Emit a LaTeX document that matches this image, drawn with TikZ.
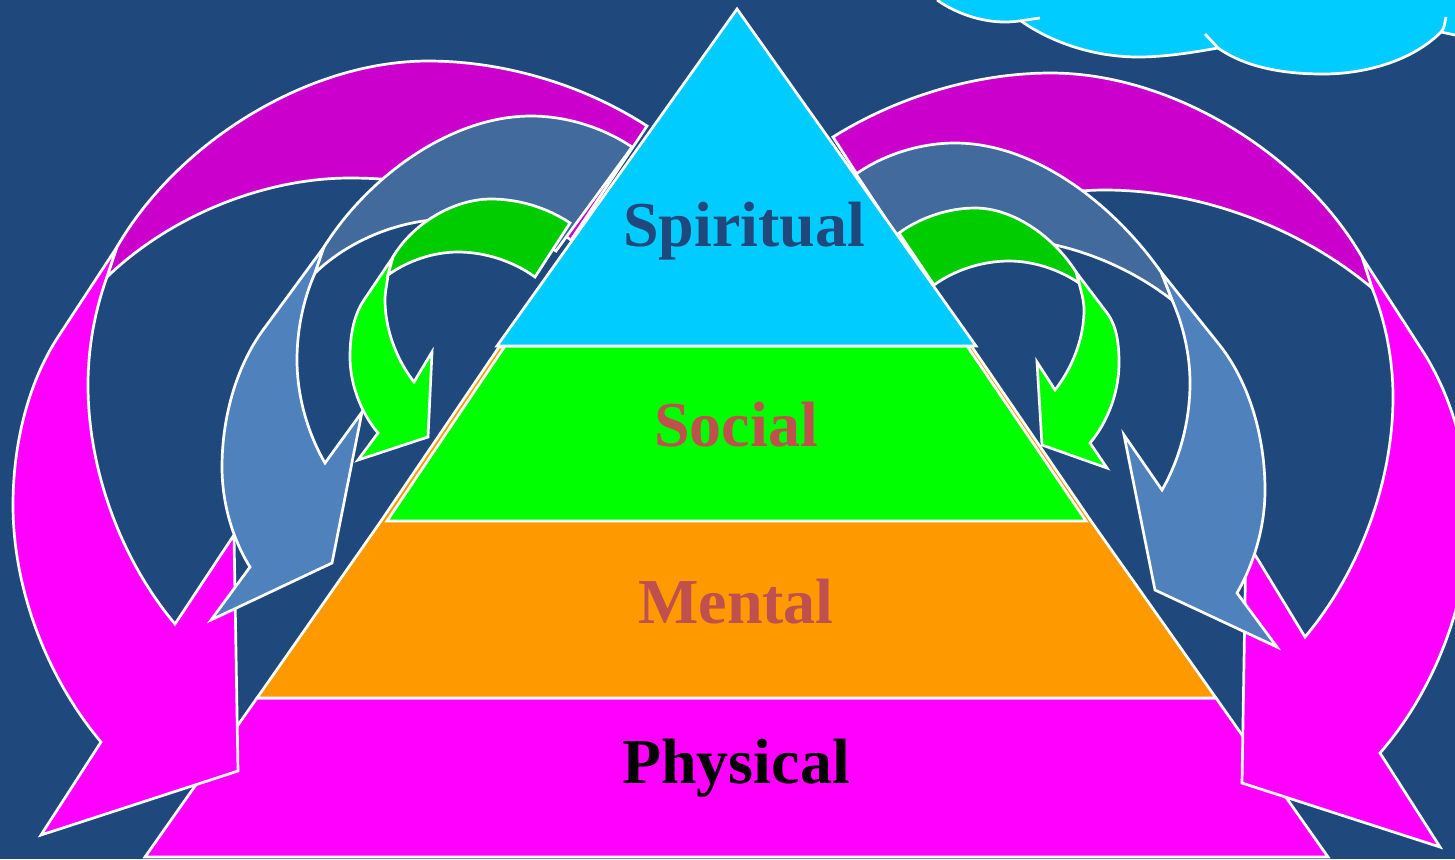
\documentclass[tikz,border=0pt]{standalone}
\usepackage{fontspec}
\setmainfont{Liberation Serif}
\definecolor{bgblue}{HTML}{1F497D}
\definecolor{skyc}{HTML}{00CCFF}
\definecolor{magl}{HTML}{FF00FF}
\definecolor{magd}{HTML}{CC00CC}
\definecolor{blul}{HTML}{4F81BD}
\definecolor{blud}{HTML}{426A9C}
\definecolor{grnl}{HTML}{00FF00}
\definecolor{grnd}{HTML}{00CC00}
\definecolor{orng}{HTML}{FF9900}
\definecolor{redt}{HTML}{C0504D}
\tikzset{
  edged/.style={draw=white,line width=1.35pt,miter limit=20},
  label text/.style={anchor=base,inner sep=0pt,font=\bfseries\fontsize{32}{36}\selectfont},
}
\begin{document}
\begin{tikzpicture}[x=0.5pt,y=-0.5pt,looseness=0.85]
\useasboundingbox (0,0) rectangle (1455,859);
\clip (0,0) rectangle (1455,859);
\fill[bgblue] (0,0) rectangle (1455,859);
% cloud
\fill[skyc] (937,0) to[out=-35,in=180] (1005,22) -- (1021,21) to[out=-35,in=180] (1138,57) to[out=0,in=190] (1218,48) to[out=-35,in=180] (1323,74) to[out=0,in=225] (1441,32) -- (1455,35) -- (1455,-5) -- (937,-5) -- cycle;
\draw[edged] (937,0) to[out=-35,in=180] (1005,22) to[out=0,in=187] (1040,18);
\draw[edged] (1021,21) to[out=-35,in=180] (1138,57) to[out=0,in=190] (1218,48);
\draw[edged] (1205,34) -- (1218,48);
\draw[edged] (1218,48) to[out=-35,in=180] (1323,74) to[out=0,in=225] (1441,32) to[out=45,in=255] (1446,17);
\draw[edged] (1441,32) -- (1455,35);
% pyramid lower layers
\draw[edged,fill=magl] (145,857) -- (257,698) -- (1216,698) -- (1328,857) -- cycle;
\draw[edged,fill=orng] (257,698) -- (381,521) -- (499,347) -- (972,347) -- (1091,521) -- (1216,698) -- cycle;
\draw[edged,fill=grnl] (387,521) -- (505,346) -- (967,346) -- (1086,521) -- cycle;
% left magenta arrow
\draw[edged,fill=magl] (117,247) -- (58,337) to[out=237,in=90] (13,505) to[out=270,in=130] (101,742) -- (41,835) -- (238,771) -- (234,535) -- (175,624) to[out=130,in=270] (88,385) to[out=90,in=250] (107,277) -- cycle;
\draw[edged,fill=magd] (117,247) to[out=60,in=180] (428,61) to[out=0,in=147] (647,126) -- (571,240) to[out=145,in=0] (350,178) to[out=180,in=44] (107,277) -- cycle;
% right magenta arrow
\draw[edged,fill=magl] (1362,257) -- (1422,350) to[out=-57,in=90] (1469,517) to[out=270,in=49] (1380,753) -- (1440,847) -- (1242,783) -- (1246,540) -- (1305,637) to[out=50,in=270] (1393,397) to[out=90,in=292] (1372,288) -- cycle;
\draw[edged,fill=magd] (1362,257) to[out=120,in=0] (1051,73) to[out=180,in=32] (833,137) -- (909,255) to[out=36,in=180] (1105,190) to[out=0,in=140] (1372,288) -- cycle;
% left blue arrow
\draw[edged,fill=blul] (324,247) -- (263,330) to[out=234,in=90] (222,467) to[out=270,in=122] (250,567) -- (211,620) -- (332,563) -- (362,412) -- (325,463) to[out=120,in=270] (297,360) to[out=90,in=246] (315,273) -- cycle;
\draw[edged,fill=blud] (324,247) to[out=58,in=180] (531,116) to[out=0,in=146] (632,147) -- (556,251) to[out=150,in=0] (450,219) to[out=180,in=44] (315,273) -- cycle;
% right blue arrow
\draw[edged,fill=blul] (1161,272) -- (1218,343) to[out=-51,in=90] (1265,490) to[out=270,in=60] (1237,593) -- (1277,647) -- (1155,590) -- (1124,435) -- (1162,490) to[out=60,in=270] (1190,383) to[out=90,in=294] (1172,300) -- cycle;
\draw[edged,fill=blud] (1161,272) to[out=125,in=0] (955,143) to[out=180,in=35] (856,174) -- (912,258) to[out=28,in=180] (995,238) to[out=0,in=142] (1172,300) -- cycle;
% left green arrow
\draw[edged,fill=grnl] (393,257) -- (364,300) to[out=236,in=90] (350,357) to[out=270,in=130] (378,433) -- (358,460) -- (428,437) -- (432,352) -- (414,382) to[out=128,in=270] (385,300) to[out=90,in=264] (388,275) -- cycle;
\draw[edged,fill=grnd] (393,257) to[out=60,in=180] (491,199) to[out=0,in=146] (570,223) -- (535,277) to[out=144,in=0] (458,252) to[out=180,in=36] (388,275) -- cycle;
% right green arrow
\draw[edged,fill=grnl] (1076,272) -- (1107,313) to[out=-53,in=90] (1119,363) to[out=270,in=50] (1090,443) -- (1107,468) -- (1042,445) -- (1037,362) -- (1055,390) to[out=52,in=270] (1084,310) to[out=90,in=285] (1079,283) -- cycle;
\draw[edged,fill=grnd] (1076,272) to[out=122,in=0] (975,208) to[out=180,in=36] (899,233) -- (934,285) to[out=36,in=180] (1009,261) to[out=0,in=146] (1079,283) -- cycle;
% apex
\draw[edged,fill=skyc] (737,9) -- (976,346) -- (497,346) -- cycle;
% labels
\node[label text,text=bgblue] (spiritual) at (744,246) {Spiritual};
\node[label text,text=redt] (social) at (736,446) {Social};
\node[label text,text=redt] (mental) at (736,623) {Mental};
\node[label text,text=black] (physical) at (736,783) {Physical};
\end{tikzpicture}
\end{document}
